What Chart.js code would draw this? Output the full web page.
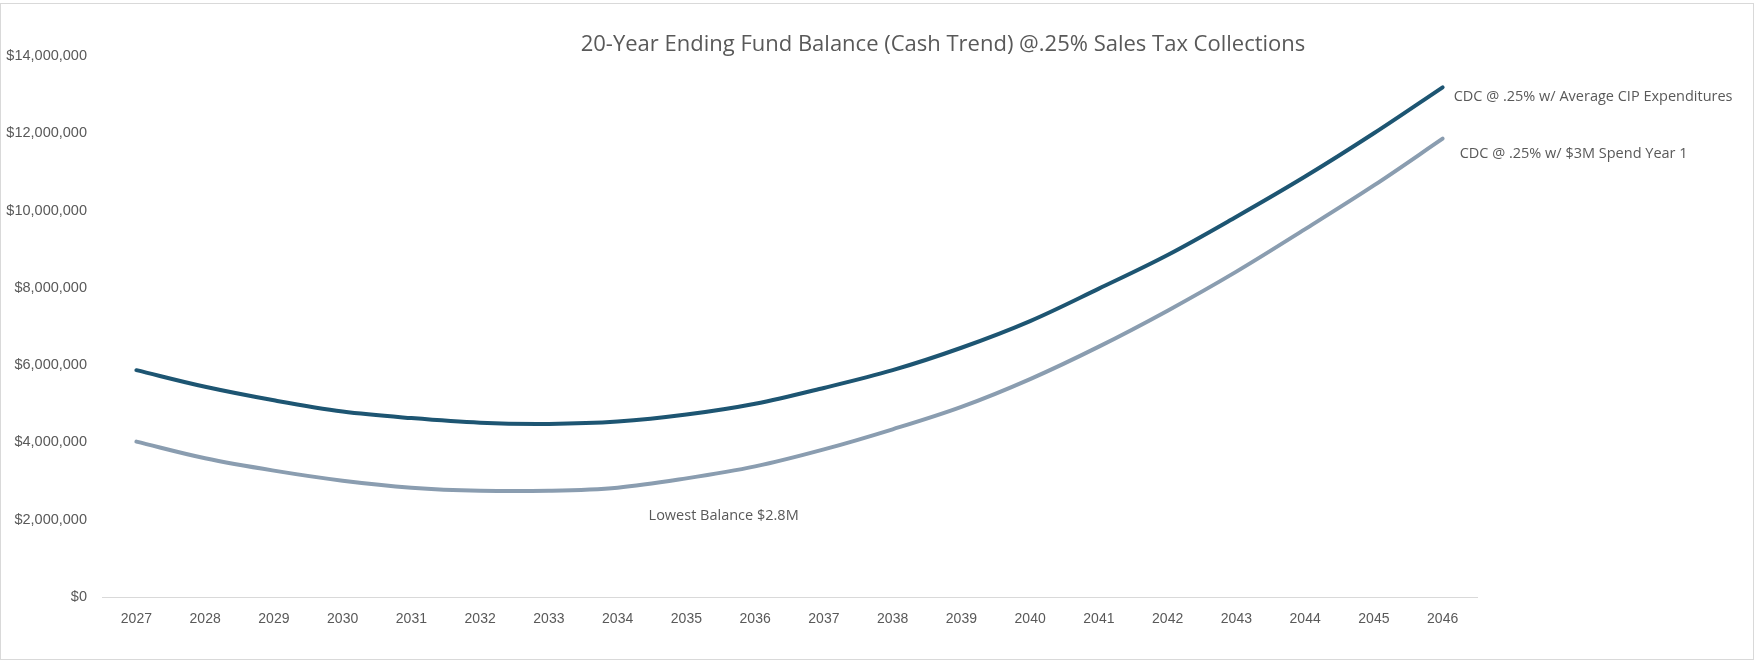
<!DOCTYPE html>
<html>
<head>
<meta charset="utf-8">
<script src="https://cdn.jsdelivr.net/npm/chart.js@4.4.1/dist/chart.umd.min.js"></script>
<style>
  html, body { margin: 0; padding: 0; background: #fff; }
  #wrap { width: 1754px; height: 663px; }
</style>
</head>
<body>
<div id="wrap"><canvas id="myChart" width="1754" height="663"></canvas></div>
<script>
const years = ['2027', '2028', '2029', '2030', '2031', '2032', '2033', '2034', '2035', '2036',
               '2037', '2038', '2039', '2040', '2041', '2042', '2043', '2044', '2045', '2046'];

// ending fund balance, average CIP expenditures
const avgCip = [5870000, 5440000, 5090000, 4800000, 4630000, 4510000, 4480000, 4540000, 4720000, 5000000,
                5410000, 5870000, 6450000, 7140000, 7980000, 8850000, 9840000, 10880000, 12000000, 13190000];

// ending fund balance, $3M spend in year 1
const spend3m = [4020000, 3590000, 3270000, 3010000, 2830000, 2750000, 2750000, 2830000, 3070000, 3380000,
                 3820000, 4340000, 4920000, 5640000, 6480000, 7410000, 8420000, 9520000, 10650000, 11860000];

const yTicks = [0, 2000000, 4000000, 6000000, 8000000, 10000000, 12000000, 14000000];

const titleText = '20-Year Ending Fund Balance (Cash Trend) @.25% Sales Tax Collections';
const avgLabel = 'CDC @ .25% w/ Average CIP Expenditures';
const spendLabel = 'CDC @ .25% w/ $3M Spend Year 1';
const lowLabel = 'Lowest Balance $2.8M';

const darkBlue = '#1d5572';
const greyBlue = '#8a9db0';

const textFont = '"Open Sans", "Noto Sans", sans-serif';

// frame, title and the text labels next to the lines
const decorations = {
    id: 'decorations',
    afterDraw(chart) {
        const ctx = chart.ctx;
        const x = chart.scales.x;
        const y = chart.scales.y;
        ctx.save();

        ctx.strokeStyle = '#d9d9d9';
        ctx.lineWidth = 1;
        ctx.strokeRect(0.5, 3.5, chart.width - 1, chart.height - 7);

        ctx.fillStyle = '#595959';
        ctx.textAlign = 'center';
        ctx.textBaseline = 'middle';
        ctx.font = '22px ' + textFont;
        ctx.fillText(titleText, 943, 45);

        ctx.font = '14.5px ' + textFont;
        ctx.textAlign = 'left';
        const last = years.length - 1;
        ctx.fillText(avgLabel, x.getPixelForValue(last) + 11, y.getPixelForValue(avgCip[last]) + 10);
        ctx.fillText(spendLabel, x.getPixelForValue(last) + 17, y.getPixelForValue(spend3m[last]) + 15);
        ctx.fillText(lowLabel, x.getPixelForValue(7.45), y.getPixelForValue(2100000));

        ctx.restore();
    }
};

const data = {
    labels: years,
    datasets: [
        {
            label: avgLabel,
            data: avgCip,
            borderColor: darkBlue,
            backgroundColor: darkBlue,
            borderWidth: 4,
            pointRadius: 0,
            tension: 0.35,
            borderCapStyle: 'round',
        },
        {
            label: spendLabel,
            data: spend3m,
            borderColor: greyBlue,
            backgroundColor: greyBlue,
            borderWidth: 4,
            pointRadius: 0,
            tension: 0.35,
            borderCapStyle: 'round',
        },
    ],
};

const config = {
    type: 'line',
    data: data,
    options: {
        responsive: false,
        animation: false,
        layout: {
            padding: { top: 56, right: 277, bottom: 22, left: 0 },
        },
        plugins: {
            legend: { display: false },
            title: { display: false },
            tooltip: { enabled: false },
        },
        scales: {
            x: {
                offset: true,
                grid: { display: false, drawTicks: false },
                border: { display: true, color: '#d9d9d9', width: 1 },
                ticks: {
                    color: '#595959',
                    font: { family: '"Liberation Sans", Arial, sans-serif', size: 14 },
                    padding: 14,
                    maxRotation: 0,
                    autoSkip: false,
                },
                afterFit: (scale) => { scale.height = 44; },
            },
            y: {
                min: 0,
                max: 14000000,
                afterBuildTicks: (scale) => { scale.ticks = yTicks.map(v => ({ value: v })); },
                grid: { display: false, drawTicks: false },
                border: { display: false },
                ticks: {
                    color: '#595959',
                    font: { family: '"Liberation Sans", Arial, sans-serif', size: 14.5 },
                    padding: 15,
                    callback: (v) => '$' + v.toLocaleString('en-US'),
                },
                afterFit: (scale) => { scale.width = 102; },
            },
        },
    },
    plugins: [decorations],
};

const ctx = document.getElementById('myChart').getContext('2d');
const myChart = new Chart(ctx, config);
</script>
</body>
</html>
